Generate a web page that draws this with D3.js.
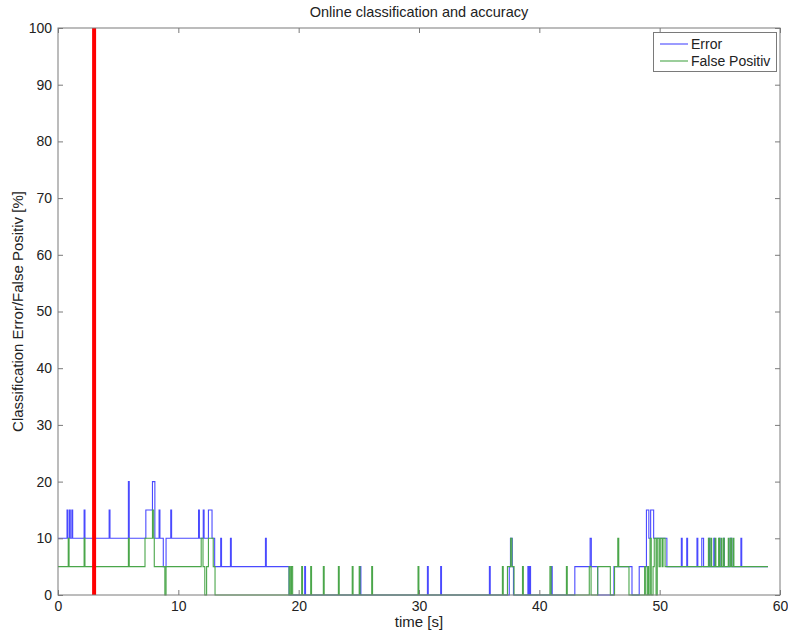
<!DOCTYPE html>
<html><head><meta charset="utf-8">
<script src="https://cdn.jsdelivr.net/npm/d3@7"></script>
<style>
body{margin:0;background:#fff;}
svg{display:block;font-family:"Liberation Sans",Arial,Helvetica,sans-serif;}
</style></head>
<body><svg id="c" width="788" height="632"></svg>
<script>
const xTicks = [0,10,20,30,40,50,60];
const yTicks = [0,10,20,30,40,50,60,70,80,90,100];
const seriesNames = ["Error","False Positiv"];
const markerTime = 3;
// step breakpoints [time s, value %]
const errorSeries = [
[0,10],[0.75,15],[0.82,10],[0.95,15],[1.02,10],[1.15,15],[1.22,10],
[2.17,15],[2.24,10],[4.25,15],[4.32,10],[5.85,20],[5.92,10],
[7.3,15],[7.85,20],[8.05,10],[8.4,15],[8.47,10],[8.75,5],[8.98,10],
[9.37,15],[9.44,10],[11.68,15],[11.75,10],[12.07,15],[12.14,10],
[12.5,15],[12.8,10],[13.02,5],[13.52,10],[13.59,5],[14.33,10],[14.4,5],
[17.24,10],[17.31,5],[19.2,0],[20.5,5],[20.57,0],[25.1,5],[25.17,0],
[30.7,5],[30.77,0],[31.8,5],[31.87,0],[35.85,5],[35.92,0],
[37.5,5],[37.6,10],[37.75,5],[37.85,0],[39.05,5],[39.12,0],[39.2,5],[39.27,0],
[41.0,5],[41.07,0],[42.95,5],[44.22,10],[44.32,5],[44.85,0],[46.2,5],[47.7,0],
[48.3,5],[48.9,15],[49.1,10],[49.25,15],[49.5,10],[50.6,5],
[51.8,10],[51.87,5],[52.25,10],[52.32,5],[53.1,10],[53.17,5],[53.5,10],[53.65,5],
[54.1,10],[54.17,5],[54.5,10],[54.57,5],[54.95,10],[55.02,5],[55.3,10],[55.37,5],
[55.85,10],[56.0,5],[56.75,10],[56.82,5],[59.0,5]
];
const falsePosSeries = [
[0,5],[0.85,10],[0.92,5],[2.17,10],[2.24,5],[5.85,10],[5.92,5],
[7.23,10],[7.85,15],[7.95,10],[8.0,5],[8.88,0],[8.98,5],
[11.9,10],[12.05,5],[12.2,0],[12.35,5],[12.5,10],[12.9,5],[13.05,0],
[19.2,5],[19.3,0],[19.4,5],[19.5,0],[20.25,5],[20.32,0],[21.0,5],[21.07,0],
[22.05,5],[22.12,0],[23.3,5],[23.37,0],[24.45,5],[24.52,0],[25.03,5],[25.1,0],
[26.07,5],[26.14,0],[29.92,5],[29.99,0],[36.93,5],[37.0,0],
[37.35,5],[37.62,10],[37.72,5],[37.9,0],[38.6,5],[38.67,0],[40.88,5],[40.98,0],
[42.25,5],[42.32,0],[44.15,5],[44.3,0],[44.85,5],[45.9,0],
[46.25,5],[46.52,10],[46.6,5],[47.45,0],
[48.75,5],[48.85,0],[49.0,5],[49.08,0],[49.2,10],[49.3,0],[49.45,5],[49.55,10],
[49.7,0],[49.8,10],[49.95,5],[50.05,10],[50.2,5],[50.28,10],[50.45,5],
[54.05,10],[54.12,5],[54.25,10],[54.32,5],[54.6,10],[54.67,5],[54.9,10],[54.97,5],
[55.1,10],[55.17,5],[55.3,10],[55.37,5],[55.7,10],[55.77,5],[55.9,10],[55.97,5],
[56.1,10],[56.17,5],[59.0,5]
];

const svg = d3.select("#c");
const L=58,R=780,T=28,B=595;
const x = d3.scaleLinear().domain([0,60]).range([L,R]);
const y = d3.scaleLinear().domain([0,100]).range([B,T]);
const axisCol="#7a7a7a", txtCol="#222";
const lcol=["#4a4aff","#4aa64a"];

const line = d3.line().x(d=>x(d[0])).y(d=>y(d[1])).curve(d3.curveStepAfter);
const g = svg.append("g");
g.append("path").datum(errorSeries).attr("d",line).attr("fill","none")
 .attr("stroke",lcol[0]).attr("stroke-width",1.1);
g.append("path").datum(falsePosSeries).attr("d",line).attr("fill","none")
 .attr("stroke",lcol[1]).attr("stroke-width",1.1);

// red marker
svg.append("line").attr("x1",x(markerTime)).attr("x2",x(markerTime))
 .attr("y1",y(0)).attr("y2",y(100)).attr("stroke","#ff0000").attr("stroke-width",4);

// axes
function styleAxis(sel){
  sel.select(".domain").remove();
  sel.selectAll(".tick line").attr("stroke",axisCol);
  sel.selectAll(".tick text").attr("fill",txtCol).style("font-size","14px")
   .style("font-family","'Liberation Sans',Arial,sans-serif");
}
const ax = svg.append("g").attr("transform",`translate(0,${B})`)
 .call(d3.axisBottom(x).tickValues(xTicks).tickSize(-5).tickPadding(6));
styleAxis(ax);
const axT = svg.append("g").attr("transform",`translate(0,${T})`)
 .call(d3.axisTop(x).tickValues(xTicks).tickSize(-5).tickFormat(""));
styleAxis(axT);
const ay = svg.append("g").attr("transform",`translate(${L},0)`)
 .call(d3.axisLeft(y).tickValues(yTicks).tickSize(-5).tickPadding(6));
styleAxis(ay);
const ayR = svg.append("g").attr("transform",`translate(${R},0)`)
 .call(d3.axisRight(y).tickValues(yTicks).tickSize(-5).tickFormat(""));
styleAxis(ayR);
svg.append("rect").attr("x",L).attr("y",T).attr("width",R-L).attr("height",B-T)
 .attr("fill","none").attr("stroke",axisCol).attr("stroke-width",1);

// labels
svg.append("text").attr("x",(L+R)/2).attr("y",17).attr("text-anchor","middle")
 .attr("fill",txtCol).style("font-size","14.5px").text("Online classification and accuracy");
svg.append("text").attr("x",(L+R)/2).attr("y",627).attr("text-anchor","middle")
 .attr("fill",txtCol).style("font-size","15px").text("time [s]");
svg.append("text").attr("transform",`translate(23,${(T+B)/2}) rotate(-90)`)
 .attr("text-anchor","middle").attr("fill",txtCol).style("font-size","15px")
 .text("Classification Error/False Positiv [%]");

// legend
const lg = svg.append("g");
lg.append("rect").attr("x",653.5).attr("y",32.5).attr("width",123).attr("height",39)
 .attr("fill","#fff").attr("stroke",axisCol);
seriesNames.forEach((n,i)=>{
  const yy = 44 + i*17;
  lg.append("line").attr("x1",660).attr("x2",688).attr("y1",yy).attr("y2",yy)
   .attr("stroke",lcol[i]).attr("stroke-width",1.1);
  lg.append("text").attr("x",691).attr("y",yy+5).attr("fill",txtCol)
   .style("font-size","14px").text(n);
});
</script></body></html>
